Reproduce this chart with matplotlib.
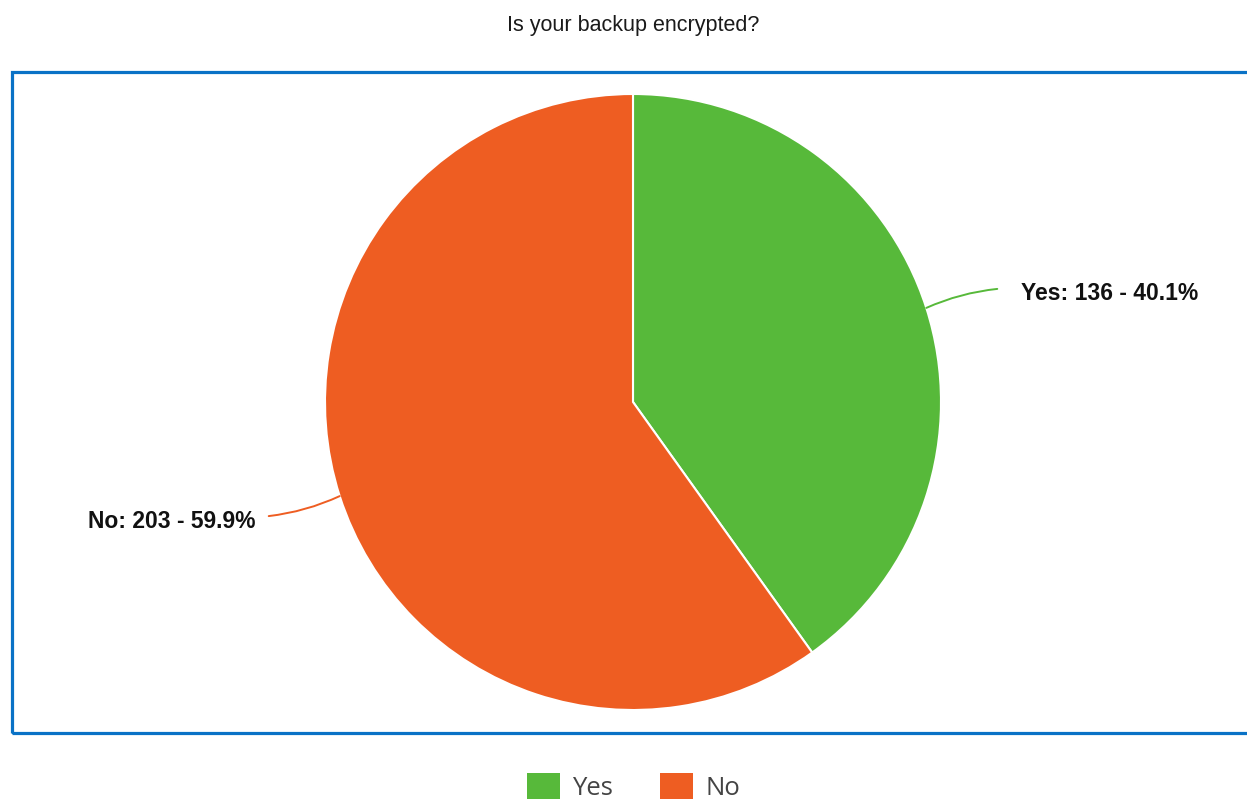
import numpy as np
import matplotlib
matplotlib.use("Agg")
import matplotlib.pyplot as plt
from matplotlib.patches import Rectangle

# Survey answers
categories = ["Yes", "No"]
counts = [136, 203]
colors = ["#57B93A", "#EE5D22"]
title = "Is your backup encrypted?"

W, H = 1247, 799
fig = plt.figure(figsize=(W / 100, H / 100), dpi=100)
ax = fig.add_axes([0, 0, 1, 1])


def py(y):
    """Convert a top-down pixel row into the axes' bottom-up coordinate."""
    return H - y


cx, cy, r = 633, py(402), 308
total = sum(counts)
wedges, _ = ax.pie(counts, colors=colors, startangle=90, counterclock=False,
                   center=(cx, cy), radius=r, frame=True,
                   wedgeprops=dict(edgecolor="white", linewidth=1.5))
ax.set_xlim(0, W)
ax.set_ylim(0, H)
ax.set_aspect("auto")
ax.axis("off")

# Blue frame around the plotting area (its right edge runs off the canvas)
ax.add_patch(Rectangle((11.5, py(732.5)), W + 20, 661, fill=False,
                       edgecolor="#0A72C6", linewidth=2.3, zorder=0))

ax.text(633, py(31), title, ha="center", va="baseline", fontsize=15.5,
        family="Liberation Sans", color="#1a1a1a")

# Leader lines and value labels
for w, cat, n, col in zip(wedges, categories, counts, colors):
    mid = np.deg2rad((w.theta1 + w.theta2) / 2)
    x0, y0 = cx + r * np.cos(mid), cy + r * np.sin(mid)
    side = 1 if np.cos(mid) >= 0 else -1
    x1, y1 = x0 + side * 71, y0 + (19 if np.sin(mid) > 0 else -20)
    ax.annotate("", xy=(x1, y1), xytext=(x0, y0),
                arrowprops=dict(arrowstyle="-", color=col, lw=1.4,
                                shrinkA=0, shrinkB=0,
                                connectionstyle="arc3,rad=-0.08"))
    label = f"{cat}: {n} - {100 * n / total:.1f}%"
    gap = 24 if side > 0 else 13
    ax.text(x1 + side * gap, y1 - 11.5, label,
            ha="left" if side > 0 else "right", va="baseline",
            fontsize=16.5, fontweight="bold",
            family="Liberation Sans", color="#111111")

# Legend along the bottom edge
lx = [527, 660]
for x, cat, col in zip(lx, categories, colors):
    ax.add_patch(Rectangle((x, py(806)), 33, 33, facecolor=col,
                           edgecolor="none", clip_on=True))
    ax.text(x + 45, py(795), cat, ha="left", va="baseline", fontsize=18.5,
            family="Open Sans", color="#444444")

fig.savefig("out.png", dpi=100)
